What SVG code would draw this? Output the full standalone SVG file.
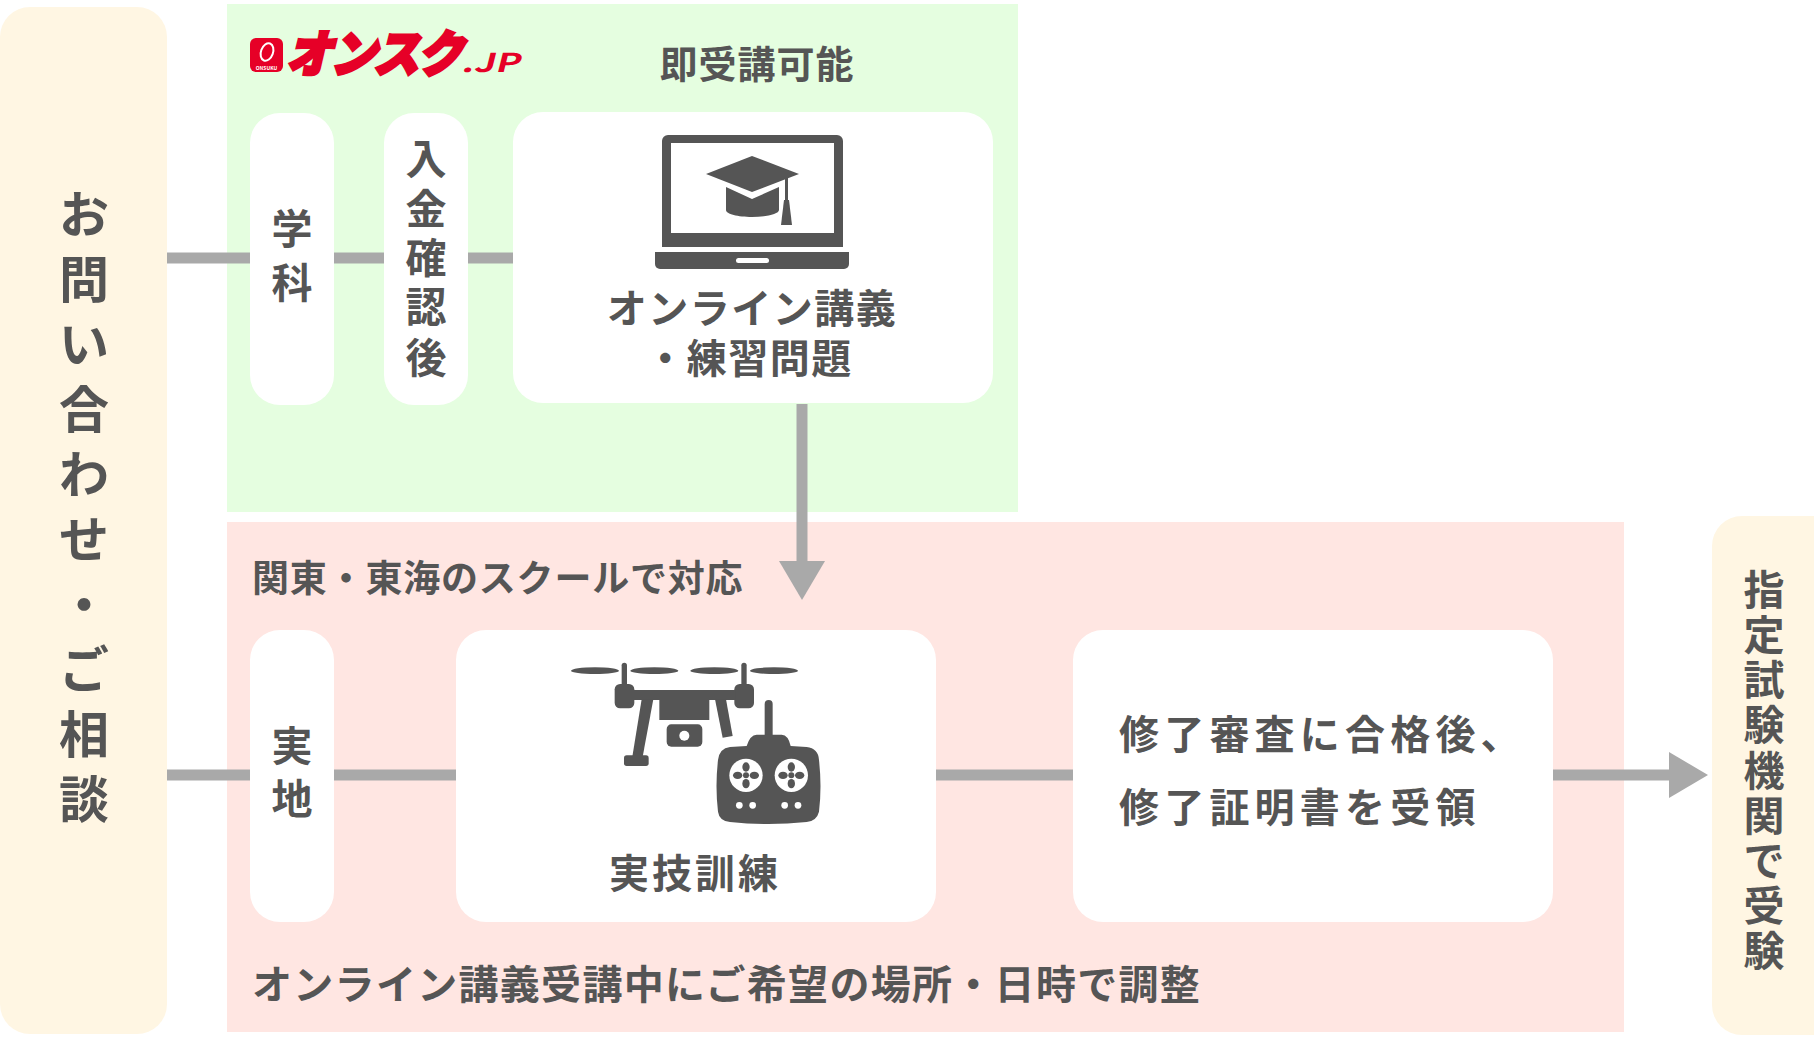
<svg xmlns="http://www.w3.org/2000/svg" width="1814" height="1037" viewBox="0 0 1814 1037">
<style>
text{font-family:"Noto Sans CJK JP","Noto Sans",sans-serif;fill:#555;text-anchor:middle;font-weight:700}
.s{text-anchor:start}
.w{fill:#fff}
.d{fill:#555}
.p{fill:#fff6e3}
.c{stroke:#a9a9a9;stroke-width:11;fill:none}
</style>
<defs>
<marker id="ah" markerUnits="userSpaceOnUse" markerWidth="40" markerHeight="46" refX="0" refY="23" orient="auto"><path d="M0 0L39 23L0 46Z" fill="#a9a9a9"/></marker>
</defs>
<rect width="1814" height="1037" fill="#fff"/>
<rect id="zone-green" x="227" y="4" width="791" height="508" fill="#e5fee0"/>
<rect id="zone-pink" x="227" y="522" width="1397" height="510" fill="#ffe6e2"/>
<g id="connectors">
<path class="c" d="M167 258H514"/>
<path class="c" d="M802 404V561" marker-end="url(#ah)"/>
<path class="c" d="M167 775H1669" marker-end="url(#ah)"/>
</g>
<g id="inquiry"><rect class="p" x="0" y="7" width="167" height="1027" rx="30"/>
<text x="84 84 84 84 84 84 84 84 84 84" y="233 298 363 428 493 558 623 688 753 818" font-size="50">お問い合わせ・ご相談</text></g>
<g id="exam"><rect class="p" x="1712" y="516" width="130" height="519" rx="30"/>
<text x="1764 1764 1764 1764 1764 1764 1764 1764 1764" y="605 650 695 740 786 831 876 921 966" font-size="41">指定試験機関で受験</text></g>
<g id="logo">
<rect x="250" y="38" width="33" height="34" rx="6" fill="#e60027"/>
<ellipse cx="267" cy="52" rx="6" ry="9" fill="none" stroke="#fff" stroke-width="2" transform="rotate(20 267 52)"/>
<text x="266.500" y="70" font-size="5" style="fill:#fff">ONSUKU</text>
<text transform="translate(286 72) skewX(-14) scale(1,1.08)" font-size="46" style="fill:#e60027;stroke:#e60027;stroke-width:3;font-weight:900;text-anchor:start;letter-spacing:-2px">オンスク</text>
<text transform="translate(461 72) skewX(-14) scale(1.45,1)" font-size="26" style="fill:#e60027;font-weight:700;text-anchor:start">.JP</text>
</g>
<text x="757" y="78" font-size="38" style="letter-spacing:1px">即受講可能</text>
<g id="gakka"><rect class="w" x="250" y="113" width="84" height="292" rx="30"/>
<text x="292 292" y="244 298" font-size="41">学科</text></g>
<g id="payment"><rect class="w" x="384" y="113" width="84" height="292" rx="30"/>
<text x="426 426 426 426 426" y="174 224 273 322 373" font-size="41">入金確認後</text></g>
<g id="online"><rect class="w" x="513" y="112" width="480" height="291" rx="30"/>
<path class="d" d="M662 141a6 6 0 0 1 6-6h169a6 6 0 0 1 6 6V247H662ZM671 143V233H834V143Z" fill-rule="evenodd"/>
<path class="d" d="M655 252H849V264a5 5 0 0 1-5 5H660a5 5 0 0 1-5-5Z"/>
<rect class="w" x="736" y="258" width="33" height="5" rx="2.500"/>
<path class="d" d="M752 156L799 174L752 192L706 174Z"/>
<path class="d" d="M726 187L752 199L779 187V210C779 214 766 217 752 217C738 217 726 214 726 210Z"/>
<rect class="d" x="785" y="178" width="3" height="24"/>
<path class="d" d="M784 200H789L792 225H781Z"/>
<text x="752" y="323" font-size="40" style="letter-spacing:1.500px">オンライン講義</text>
<text x="749" y="373" font-size="40" style="letter-spacing:1.500px">・練習問題</text></g>
<g id="jitchi"><rect class="w" x="250" y="630" width="84" height="292" rx="30"/>
<text x="292 292" y="761 814" font-size="41">実地</text></g>
<g id="training"><rect class="w" x="456" y="630" width="480" height="292" rx="30"/>
<g transform="translate(440 620) scale(.33333)" class="d">
<ellipse cx="465" cy="152" rx="72" ry="10"/><ellipse cx="643" cy="152" rx="72" ry="10"/><ellipse cx="823" cy="152" rx="72" ry="10"/><ellipse cx="1002" cy="152" rx="72" ry="10"/>
<rect x="545" y="128" width="16" height="80" rx="8"/><rect x="904" y="128" width="16" height="80" rx="8"/>
<rect x="524" y="192" width="59" height="73" rx="16"/><rect x="883" y="192" width="59" height="73" rx="16"/>
<rect x="580" y="210" width="306" height="30"/><rect x="658" y="238" width="150" height="62"/>
<path d="M605 238H640L608 410H577Z"/><rect x="552" y="406" width="74" height="32" rx="8"/>
<path d="M825 238H858L878 348L848 353Z"/>
<rect x="680" y="313" width="107" height="67" rx="14"/>
<circle cx="733" cy="347" r="15" class="w"/>
<rect x="974" y="240" width="24" height="120" rx="12"/>
<path d="M920 378Q930 345 950 344H1025Q1045 345 1052 378L1100 381Q1135 385 1137 420Q1146 500 1137 575Q1130 603 1100 606Q985 618 870 606Q838 603 834 575Q825 500 834 420Q838 385 870 381Z"/>
<circle cx="918" cy="466" r="50" class="w"/><circle cx="1054" cy="466" r="50" class="w"/>
<g><ellipse cx="918" cy="441" rx="11" ry="14"/><ellipse cx="918" cy="491" rx="11" ry="14"/><ellipse cx="893" cy="466" rx="14" ry="11"/><ellipse cx="943" cy="466" rx="14" ry="11"/><circle cx="918" cy="466" r="9"/></g>
<g><ellipse cx="1054" cy="441" rx="11" ry="14"/><ellipse cx="1054" cy="491" rx="11" ry="14"/><ellipse cx="1029" cy="466" rx="14" ry="11"/><ellipse cx="1079" cy="466" rx="14" ry="11"/><circle cx="1054" cy="466" r="9"/></g>
<circle cx="898" cy="556" r="10" class="w"/><circle cx="938" cy="556" r="10" class="w"/><circle cx="1034" cy="556" r="10" class="w"/><circle cx="1074" cy="556" r="10" class="w"/>
</g>
<text x="695" y="888" font-size="40" style="letter-spacing:3px">実技訓練</text></g>
<g id="certificate"><rect class="w" x="1073" y="630" width="480" height="292" rx="30"/>
<text class="s" x="1119" y="749" font-size="40" style="letter-spacing:5.200px">修了審査に合格後、</text>
<text class="s" x="1119" y="822" font-size="40" style="letter-spacing:5.200px">修了証明書を受領</text></g>
<text class="s" x="252" y="592" font-size="37" style="letter-spacing:.8px">関東・東海のスクールで対応</text>
<text class="s" x="252" y="999" font-size="40" style="letter-spacing:1.300px">オンライン講義受講中にご希望の場所・日時で調整</text>
</svg>
